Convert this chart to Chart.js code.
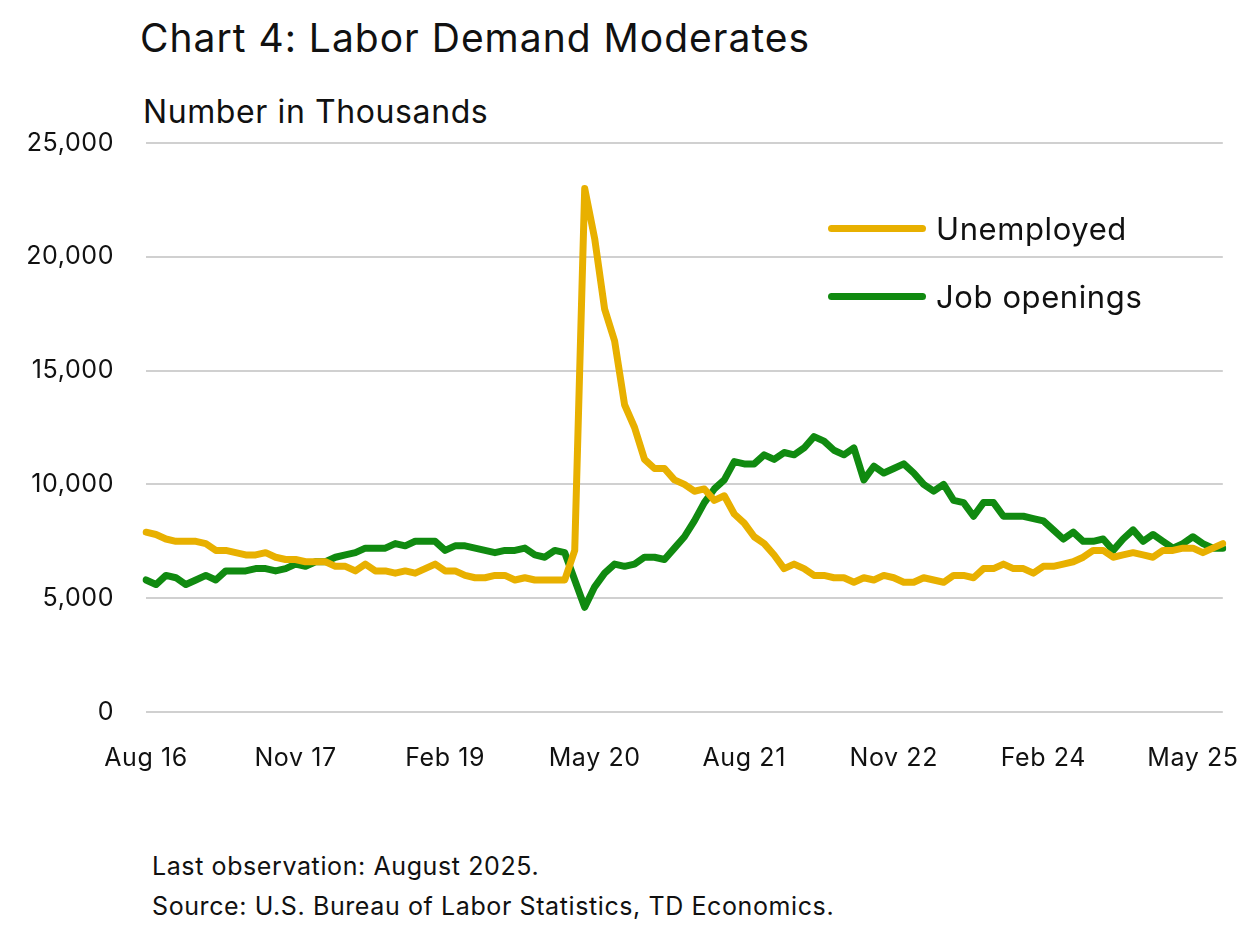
<!DOCTYPE html>
<html>
<head>
<meta charset="utf-8">
<script src="https://cdn.jsdelivr.net/npm/chart.js@4"></script>
<style>
  body { margin: 0; background: #fff; font-family: "Inter", sans-serif; color: #111; letter-spacing: 0.6px; overflow: hidden; }
  #wrap { position: relative; width: 1240px; height: 925px; overflow: hidden; }
  #title { position: absolute; left: 140px; top: 14px; font-size: 39px; letter-spacing: 1px; }
  #sub { position: absolute; left: 143px; top: 92px; font-size: 32px; }
  #foot { position: absolute; left: 152px; top: 846px; font-size: 25px; line-height: 40px; }
  #box { position: absolute; left: 0; top: 96px; width: 1262px; height: 704px; }
  .leg { position: absolute; left: 828px; font-size: 31px; display: flex; align-items: center; }
  .leg span { display: inline-block; width: 98px; height: 7px; border-radius: 4px; margin-right: 10px; }
</style>
</head>
<body>
<div id="wrap">
  <div id="title">Chart 4: Labor Demand Moderates</div>
  <div id="sub">Number in Thousands</div>
  <div id="box"><canvas id="canvas" width="1262" height="704"></canvas></div>
  <div class="leg" style="top:210px"><span style="background:#e8b000"></span>Unemployed</div>
  <div class="leg" style="top:278px"><span style="background:#108a10"></span>Job openings</div>
  <div id="foot">Last observation: August 2025.<br>Source: U.S. Bureau of Labor Statistics, TD Economics.</div>
</div>
<script>
// Mensual, Aug 2016 - Aug 2025, miles de personas
const meses = ["Jan","Feb","Mar","Apr","May","Jun","Jul","Aug","Sep","Oct","Nov","Dec"];
const labels = [];
for (let y = 2016; y <= 2025; y++) {
  meses.forEach((m, i) => {
    if ((y === 2016 && i < 7) || (y === 2025 && i > 7)) return;
    labels.push(m + " " + String(y).slice(2));
  });
}

const unemployed = [
  7.9,7.8,7.6,7.5,7.5,
  7.5,7.4,7.1,7.1,7.0,6.9,6.9,7.0,6.8,6.7,6.7,6.6,
  6.6,6.6,6.4,6.4,6.2,6.5,6.2,6.2,6.1,6.2,6.1,6.3,
  6.5,6.2,6.2,6.0,5.9,5.9,6.0,6.0,5.8,5.9,5.8,5.8,
  5.8,5.8,7.1,23.0,20.8,17.7,16.3,13.5,12.5,11.1,10.7,10.7,
  10.2,10.0,9.7,9.8,9.3,9.5,8.7,8.3,7.7,7.4,6.9,6.3,
  6.5,6.3,6.0,6.0,5.9,5.9,5.7,5.9,5.8,6.0,5.9,5.7,
  5.7,5.9,5.8,5.7,6.0,6.0,5.9,6.3,6.3,6.5,6.3,6.3,
  6.1,6.4,6.4,6.5,6.6,6.8,7.1,7.1,6.8,6.9,7.0,6.9,
  6.8,7.1,7.1,7.2,7.2,7.0,7.2,7.4
];
const jobOpenings = [
  5.8,5.6,6.0,5.9,5.6,
  5.8,6.0,5.8,6.2,6.2,6.2,6.3,6.3,6.2,6.3,6.5,6.4,
  6.6,6.6,6.8,6.9,7.0,7.2,7.2,7.2,7.4,7.3,7.5,7.5,
  7.5,7.1,7.3,7.3,7.2,7.1,7.0,7.1,7.1,7.2,6.9,6.8,
  7.1,7.0,5.8,4.6,5.5,6.1,6.5,6.4,6.5,6.8,6.8,6.7,
  7.2,7.7,8.4,9.2,9.8,10.2,11.0,10.9,10.9,11.3,11.1,11.4,
  11.3,11.6,12.1,11.9,11.5,11.3,11.6,10.2,10.8,10.5,10.7,10.9,
  10.5,10.0,9.7,10.0,9.3,9.2,8.6,9.2,9.2,8.6,8.6,8.6,
  8.5,8.4,8.0,7.6,7.9,7.5,7.5,7.6,7.1,7.6,8.0,7.5,
  7.8,7.5,7.2,7.4,7.7,7.4,7.2,7.2
];
const yTicks = [0, 5000, 10000, 15000, 20000, 25000];

const fuente = { family: "Inter", size: 25 };

new Chart(document.getElementById("canvas"), {
  type: "line",
  data: {
    labels: labels,
    datasets: [
      { label: "Unemployed", data: unemployed.map((v) => v * 1000), borderColor: "#e8b000", borderWidth: 7, borderJoinStyle: "round", borderCapStyle: "round", pointRadius: 0, tension: 0 },
      { label: "Job openings", data: jobOpenings.map((v) => v * 1000), borderColor: "#108a10", borderWidth: 7, borderJoinStyle: "round", borderCapStyle: "round", pointRadius: 0, tension: 0 },
    ],
  },
  options: {
    responsive: false,
    animation: false,
    layout: { padding: { top: 13, right: 15, left: 0, bottom: 0 } },
    plugins: { legend: { display: false }, tooltip: { enabled: false } },
    scales: {
      x: {
        offset: false,
        grid: { display: false },
        border: { display: false },
        ticks: {
          autoSkip: false, maxRotation: 0, color: "#111", font: fuente, padding: 23,
          callback: (v, i) => (i % 15 === 0 ? labels[i] : null),
        },
        afterFit: (s) => { s.height = 88; },
      },
      y: {
        min: 0, max: 25000,
        afterBuildTicks: (s) => { s.ticks = yTicks.map((v) => ({ value: v })); },
        grid: { color: "#d0d0d0", lineWidth: 2, drawTicks: false },
        border: { display: false },
        ticks: { color: "#111", font: fuente, padding: 32, callback: (v) => v.toLocaleString("en-US") },
        afterFit: (s) => { s.width = 146; },
      },
    },
  },
});
</script>
</body>
</html>
